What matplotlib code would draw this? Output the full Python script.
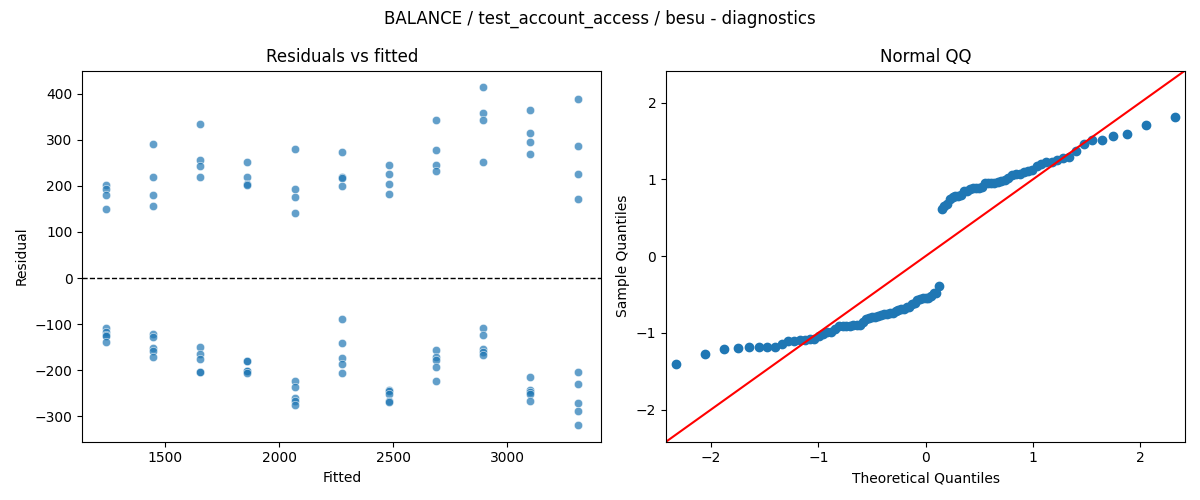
import matplotlib
matplotlib.use("Agg")
import matplotlib.pyplot as plt
import seaborn as sns
import numpy as np
from statistics import NormalDist

# Fitted value of each group
fitted_levels = [1240, 1447, 1654, 1861, 2068, 2275, 2482, 2689, 2896, 3103, 3310]

# Residuals per group
residuals_by_group = [
    [202, 193, 180, 149, -109, -118, -124, -126, -139],
    [291, 219, 180, 157, -122, -129, -151, -159, -171],
    [334, 256, 243, 219, -149, -166, -176, -204, -205],
    [253, 219, 205, 203, -180, -181, -202, -203, -206],
    [280, 193, 175, 141, -223, -236, -260, -267, -275],
    [273, 220, 218, 199, -88, -141, -173, -186, -206],
    [245, 225, 204, 182, -244, -246, -251, -268, -269],
    [344, 279, 245, 232, -156, -171, -178, -193, -223],
    [414, 358, 344, 251, -108, -124, -155, -161, -168],
    [364, 314, 295, 269, -215, -244, -248, -251, -267],
    [390, 286, 227, 171, -205, -230, -271, -288, -319],
]

suptitle = "BALANCE / test_account_access / besu - diagnostics"

fitted = np.concatenate([[f] * len(r) for f, r in zip(fitted_levels, residuals_by_group)])
resid = np.concatenate([np.array(r, dtype=float) for r in residuals_by_group])

fig, axes = plt.subplots(1, 2, figsize=(12, 5), dpi=100)

ax = axes[0]
sns.scatterplot(x=fitted, y=resid, ax=ax, alpha=0.7, color="#1f77b4")
ax.axhline(0, color="black", linestyle="--", linewidth=1)
ax.set_title("Residuals vs fitted")
ax.set_xlabel("Fitted")
ax.set_ylabel("Residual")

ax = axes[1]
n = len(resid)
std_resid = np.sort((resid - resid.mean()) / resid.std())
nd = NormalDist()
theo = np.array([nd.inv_cdf(i / (n + 1)) for i in range(1, n + 1)])
ax.plot(theo, std_resid, "o", color="#1f77b4", markersize=6)
lim = (-2.42, 2.42)
ax.plot(lim, lim, color="red")
ax.set_xlim(lim)
ax.set_ylim(lim)
ax.set_title("Normal QQ")
ax.set_xlabel("Theoretical Quantiles")
ax.set_ylabel("Sample Quantiles")

fig.suptitle(suptitle)
fig.tight_layout()
fig.savefig("out.png", dpi=100)
